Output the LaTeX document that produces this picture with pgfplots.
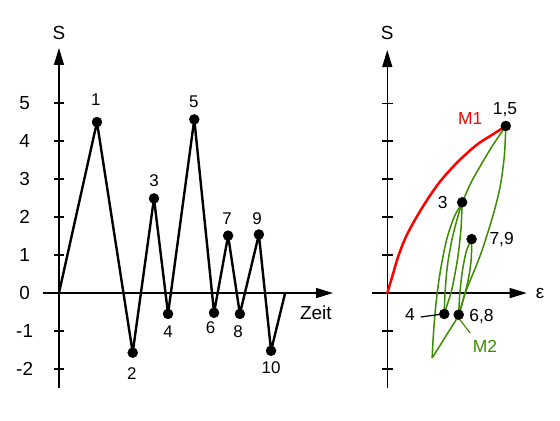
\documentclass[border=0pt]{standalone}
\usepackage{pgfplots}
\pgfplotsset{compat=1.18}
\usetikzlibrary{arrows.meta}
\usepackage{fontspec}
\setmainfont{Liberation Sans}
\definecolor{mgreen}{RGB}{60,140,0}
\definecolor{mred}{RGB}{255,0,0}
\newcommand{\F}{\fontsize{17}{19}\selectfont}
\newcommand{\T}{\fontsize{19}{21}\selectfont}
\newcommand{\R}{\fontsize{17.5}{19}\selectfont}
\begin{document}
\begin{tikzpicture}[x=1bp,y=1bp, every node/.append style={font=\F}]
\useasboundingbox (0,0) rectangle (560,420);
\pgfplotsset{
  myax/.style={
    scale only axis, anchor=south west, axis lines=middle,
    axis line style={line width=1.3bp, -{Triangle[length=17bp,width=10bp]}},
    xtick=\empty, major tick length=10.7bp, tick align=center,
    tick style={line width=1.3bp, black},
    hide obscured x ticks=false, hide obscured y ticks=false,
    clip=false,
  }
}
\begin{axis}[myax, at={(43bp,32bp)}, width=290bp, height=340bp,
  xmin=-0.42, xmax=7.21, ymin=-2.5, ymax=6.45,
  ytick={-2,-1,0,1,2,3,4,5},
  yticklabels={\T -2,\T -1,\T 0,\T 1,\T 2,\T 3,\T 4,\T 5},
  yticklabel style={anchor=center, xshift=-29bp}]
\addplot[black, line width=2.4bp, line join=round] coordinates {
 (0,0) (1.0,4.5) (1.94,-1.57) (2.5,2.49) (2.87,-0.55) (3.56,4.57) (4.08,-0.52) (4.45,1.51) (4.76,-0.55) (5.26,1.54) (5.58,-1.52) (5.95,0)};
\addplot[only marks, mark=*, mark size=5bp, black] coordinates {
 (1.0,4.5) (1.94,-1.57) (2.5,2.49) (2.87,-0.55) (3.56,4.57) (4.08,-0.52) (4.45,1.51) (4.76,-0.55) (5.26,1.54) (5.58,-1.52)};
\node at (axis cs:0.97,5.08) {1};
\node at (axis cs:1.92,-2.13) {2};
\node at (axis cs:2.5,2.97) {3};
\node at (axis cs:2.87,-1.02) {4};
\node at (axis cs:3.55,5.03) {5};
\node at (axis cs:3.99,-0.92) {6};
\node at (axis cs:4.42,1.97) {7};
\node at (axis cs:4.71,-1.03) {8};
\node at (axis cs:5.21,1.97) {9};
\node at (axis cs:5.58,-1.97) {10};
\node[font=\T] at (axis cs:6.76,-0.53) {Zeit};
\node[font=\T] at (axis cs:0,6.84) {S};
\end{axis}
\begin{axis}[myax, at={(371.7bp,32bp)}, width=155bp, height=338bp,
  xmin=-0.41, xmax=3.67, ymin=-2.5, ymax=6.4,
  ytick={-2,-1,0,1,2,3,4,5}, yticklabels={}]
\addplot[mred, line width=2.5bp, smooth] coordinates {
 (0,0) (0.12,0.4) (0.3,1.0) (0.5,1.5) (0.77,2.0) (1.08,2.5) (1.4,2.95) (1.85,3.45) (2.35,3.9) (2.78,4.18) (3.12,4.4)};
\addplot[mgreen, line width=1.5bp, smooth] coordinates {
 (1.18,-1.71) (1.22,-1.0) (1.29,-0.2) (1.4,0.6) (1.56,1.4) (1.76,2.0) (1.97,2.39) (2.2,2.9) (2.44,3.33) (2.75,3.85) (3.12,4.4)};
\addplot[mgreen, line width=1.5bp, smooth] coordinates {
 (3.12,4.4) (3.08,3.6) (2.97,2.8) (2.77,2.0) (2.45,1.0) (2.05,0) (1.88,-0.57) (1.55,-1.12) (1.18,-1.71)};
\addplot[mgreen, line width=1.5bp, smooth] coordinates {
 (1.97,2.39) (1.94,1.7) (1.85,0.9) (1.7,0.1) (1.58,-0.3) (1.5,-0.55)};
\addplot[mgreen, line width=1.5bp, smooth] coordinates {
 (1.5,-0.55) (1.52,0) (1.58,0.7) (1.7,1.4) (1.84,1.95) (1.97,2.39)};
\addplot[mgreen, line width=1.5bp, smooth] coordinates {
 (1.88,-0.57) (1.91,0) (1.98,0.6) (2.08,1.1) (2.22,1.42)};
\addplot[mgreen, line width=1.5bp, smooth] coordinates {
 (2.22,1.42) (2.21,0.9) (2.14,0.4) (2.02,-0.1) (1.88,-0.57)};
\addplot[black, line width=1.2bp] coordinates {(0.88,-0.63) (1.47,-0.55)};
\addplot[mgreen, line width=1.2bp] coordinates {(1.91,-0.70) (2.18,-1.05)};
\addplot[only marks, mark=*, mark size=5bp, black] coordinates {
 (3.12,4.4) (1.97,2.39) (2.22,1.42) (1.5,-0.55) (1.88,-0.57)};
\node[font=\R] at (axis cs:3.10,4.82) {1,5};
\node[font=\R, text=mred] at (axis cs:2.18,4.59) {M1};
\node[font=\R] at (axis cs:1.46,2.39) {3};
\node[font=\R] at (axis cs:3.01,1.40) {7,9};
\node[font=\R] at (axis cs:0.60,-0.57) {4};
\node[font=\R] at (axis cs:2.48,-0.62) {6,8};
\node[font=\R, text=mgreen] at (axis cs:2.57,-1.41) {M2};
\node[font=\T] at (axis cs:4.02,0) {ε};
\node[font=\T] at (axis cs:0,6.85) {S};
\end{axis}
\end{tikzpicture}
\end{document}
